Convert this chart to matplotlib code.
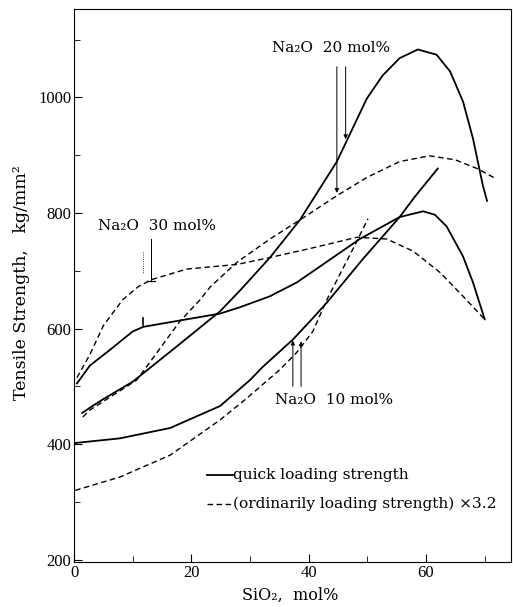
import matplotlib
matplotlib.use("Agg")
import matplotlib.pyplot as plt

plt.rcParams['font.family'] = ['Liberation Serif', 'DejaVu Serif']
WIDE = ['DejaVu Serif']

# Na2O 20 mol%
q20_x = [1.4, 2.7, 5, 10, 17.5, 24.9, 28.3, 33.4, 38.5, 44.8, 49.9, 52.6, 55.5, 58.6, 61.8, 64.1, 66.3, 68, 69.7, 70.4]
q20_y = [454, 463, 478, 508, 569, 630, 666, 723, 788, 889, 998, 1038, 1068, 1083, 1074, 1045, 993, 929, 847, 821]
o20_x = [1.5, 2.7, 5, 10.7, 14.1, 18, 21.5, 23.2, 27.8, 33.4, 38.5, 44.8, 50, 55.5, 60.6, 65, 68.7, 72]
o20_y = [447, 459, 474, 511, 558, 612, 650, 672, 715, 755, 788, 830, 862, 889, 899, 892, 877, 859]

# Na2O 30 mol%
q30_x = [0.5, 2.7, 6.1, 10, 11.8, 16.9, 24.9, 28.3, 33.4, 38, 43, 48.7, 55.5, 59.5, 61.5, 63.5, 66.3, 68, 70]
q30_y = [505, 536, 563, 595, 603, 612, 626, 637, 656, 680, 715, 755, 793, 803, 797, 777, 725, 680, 616]
o30_x = [0.5, 2.7, 5, 8.3, 11, 13.3, 19.2, 27.8, 33.4, 40, 48.2, 53.3, 57.8, 62.4, 66.3, 70]
o30_y = [515, 555, 605, 650, 673, 685, 703, 711, 723, 738, 758, 755, 734, 697, 656, 616]

# Na2O 10 mol%
q10_x = [0.2, 7.8, 16.4, 24.9, 30, 32.2, 37.3, 40.7, 43.1, 49.2, 55.5, 58, 62]
q10_y = [402, 410, 428, 466, 511, 534, 581, 618, 645, 720, 793, 827, 877]
o10_x = [0.2, 7.8, 16.4, 24.9, 29.4, 35.1, 37.9, 40.7, 43.1, 47.5, 50.1]
o10_y = [320, 343, 381, 442, 479, 529, 558, 595, 650, 737, 790]

fig = plt.figure(figsize=(5.13, 6.07), dpi=100)
ax = fig.add_axes([0.1443, 0.0741, 0.852, 0.911])

solid = dict(color='black', lw=1.3, ls='-')
dash = dict(color='black', lw=1.0, ls=(0, (4, 2.5)))

ax.plot(q20_x, q20_y, **solid)
ax.plot(o20_x, o20_y, **dash)
ax.plot(q30_x, q30_y, **solid)
ax.plot(o30_x, o30_y, **dash)
ax.plot(q10_x, q10_y, **solid)
ax.plot(o10_x, o10_y, **dash)

# annotations
ap = dict(arrowstyle='-|>', color='black', lw=0.7, mutation_scale=6)
ax.text(33.7, 1085, 'Na₂O  20 mol%', fontsize=11, va='center', family=WIDE)
ax.annotate('', xy=(44.8, 830), xytext=(44.8, 1058), arrowprops=ap)
ax.annotate('', xy=(46.3, 923), xytext=(46.3, 1058), arrowprops=ap)

ax.text(4.1, 777, 'Na₂O  30 mol%', fontsize=11, va='center', family=WIDE)
ax.plot([13.1, 13.1], [755, 682], color='black', lw=0.7)
ax.plot([12.4, 13.8], [682, 682], color='black', lw=0.9)
ax.plot([11.8, 11.8], [732, 694], color='black', lw=0.6, ls=':')
ax.plot([11.8, 11.8], [606, 618], color='black', lw=1.2)

ax.text(34.2, 477, 'Na₂O  10 mol%', fontsize=11, va='center', family=WIDE)
ax.annotate('', xy=(37.3, 584), xytext=(37.3, 495), arrowprops=ap)
ax.annotate('', xy=(38.7, 583), xytext=(38.7, 495), arrowprops=ap)

# legend
ax.plot([22.6, 27.1], [346, 346], **solid)
ax.plot([22.6, 27.1], [297, 297], **dash)
ax.text(27.1, 346, 'quick loading strength', fontsize=11.1, va='center', family=WIDE)
ax.text(27.1, 297, '(ordinarily loading strength) ×3.2', fontsize=11.1, va='center', family=WIDE)

ax.set_xlim(0, 74.5)
ax.set_ylim(196, 1153)
ax.set_xticks([0, 20, 40, 60])
ax.set_xticks([10, 30, 50, 70], minor=True)
ax.set_yticks([200, 400, 600, 800, 1000])
ax.set_yticks([300, 500, 700, 900, 1100], minor=True)
ax.tick_params(which='both', direction='in', labelsize=12, pad=2)
ax.tick_params(which='major', length=6)
ax.tick_params(which='minor', length=4)

fig.text(0.041, 0.535, 'Tensile Strength,   kg/mm²', rotation=90, fontsize=12.5,
         ha='center', va='center', family=WIDE)
fig.text(0.565, 0.02, 'SiO₂,  mol%', fontsize=11.5, ha='center', va='center', family=WIDE)

fig.savefig('out.png', dpi=100)
